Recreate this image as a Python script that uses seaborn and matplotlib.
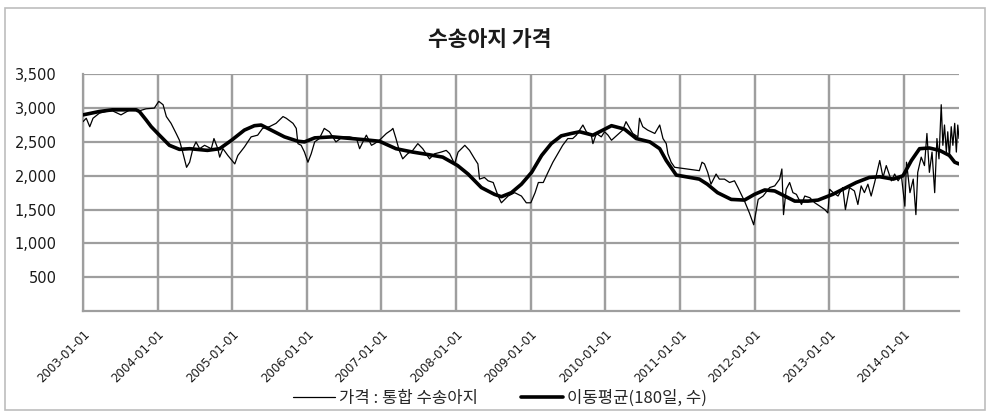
import matplotlib
matplotlib.use("Agg")
import matplotlib.pyplot as plt
from matplotlib.patches import Rectangle
import seaborn as sns
import pandas as pd

# ---------------- data ----------------
title_text = "수송아지 가격"
series_names = ["가격 : 통합 수송아지", "이동평균(180일, 수)"]
year_ticks = ["2003-01-01", "2004-01-01", "2005-01-01", "2006-01-01", "2007-01-01",
              "2008-01-01", "2009-01-01", "2010-01-01", "2011-01-01", "2012-01-01",
              "2013-01-01", "2014-01-01"]
y_ticks = [500, 1000, 1500, 2000, 2500, 3000, 3500]
x_end = "2014-09-28"

price_dates = [
    "2003-01-01", "2003-01-17", "2003-02-03", "2003-02-19", "2003-03-22", "2003-04-23",
    "2003-05-25", "2003-07-06", "2003-08-16", "2003-10-04", "2003-11-06", "2003-12-16",
    "2004-01-07", "2004-01-28", "2004-02-13", "2004-03-07", "2004-04-01", "2004-04-17",
    "2004-05-03", "2004-05-22", "2004-06-06", "2004-06-22", "2004-07-07", "2004-07-25",
    "2004-08-18", "2004-09-20", "2004-10-03", "2004-10-22", "2004-10-31", "2004-11-16",
    "2004-12-10", "2005-01-13", "2005-01-28", "2005-03-01", "2005-04-03", "2005-05-05",
    "2005-05-29", "2005-07-01", "2005-08-03", "2005-09-06", "2005-09-22", "2005-10-25",
    "2005-11-10", "2005-11-18", "2005-12-04", "2005-12-20", "2006-01-06", "2006-01-22",
    "2006-02-08", "2006-03-03", "2006-03-27", "2006-04-21", "2006-05-23", "2006-06-25",
    "2006-07-28", "2006-09-01", "2006-09-16", "2006-10-02", "2006-10-19", "2006-11-13",
    "2006-11-28", "2006-12-22", "2007-01-25", "2007-02-18", "2007-02-26", "2007-03-13",
    "2007-03-29", "2007-04-15", "2007-05-09", "2007-06-03", "2007-06-28", "2007-07-22",
    "2007-08-24", "2007-09-18", "2007-10-20", "2007-11-14", "2007-12-01", "2007-12-25",
    "2008-01-11", "2008-02-13", "2008-03-07", "2008-04-01", "2008-04-17", "2008-04-25",
    "2008-05-19", "2008-06-06", "2008-07-01", "2008-07-25", "2008-08-10", "2008-09-12",
    "2008-10-14", "2008-11-16", "2008-12-10", "2009-01-01", "2009-01-22", "2009-02-07",
    "2009-03-03", "2009-03-26", "2009-04-19", "2009-05-13", "2009-06-06", "2009-07-01",
    "2009-07-25", "2009-08-12", "2009-08-28", "2009-09-13", "2009-09-30", "2009-10-24",
    "2009-11-01", "2009-11-18", "2009-12-12", "2009-12-28", "2010-01-14", "2010-01-31",
    "2010-03-27", "2010-04-12", "2010-05-06", "2010-05-15", "2010-06-09", "2010-06-17",
    "2010-07-03", "2010-07-27", "2010-08-31", "2010-09-24", "2010-10-10", "2010-10-26",
    "2010-11-03", "2010-11-19", "2010-12-06", "2011-04-06", "2011-04-19", "2011-05-01",
    "2011-05-17", "2011-06-02", "2011-06-27", "2011-07-13", "2011-08-07", "2011-09-01",
    "2011-09-25", "2011-10-12", "2011-10-28", "2011-11-13", "2011-12-07", "2011-12-28",
    "2012-01-19", "2012-02-12", "2012-03-15", "2012-04-09", "2012-05-03", "2012-05-14",
    "2012-05-22", "2012-06-04", "2012-06-21", "2012-07-07", "2012-07-24", "2012-08-18",
    "2012-09-03", "2012-09-28", "2012-10-22", "2012-11-16", "2012-12-10", "2012-12-25",
    "2013-01-03", "2013-01-20", "2013-02-13", "2013-03-08", "2013-03-21", "2013-04-10",
    "2013-05-04", "2013-05-21", "2013-06-06", "2013-06-22", "2013-07-09", "2013-07-25",
    "2013-08-11", "2013-09-05", "2013-09-21", "2013-10-07", "2013-11-01", "2013-11-17",
    "2013-12-04", "2013-12-20", "2014-01-06", "2014-01-14", "2014-01-31", "2014-02-16",
    "2014-03-01", "2014-03-10", "2014-03-27", "2014-04-12", "2014-04-24", "2014-05-06",
    "2014-05-19", "2014-06-01", "2014-06-12", "2014-06-22", "2014-07-03", "2014-07-11",
    "2014-07-19", "2014-07-28", "2014-08-04", "2014-08-12", "2014-08-21", "2014-08-29",
    "2014-09-07", "2014-09-15", "2014-09-22", "2014-09-28",
]
price_values = [
    2800, 2850, 2725, 2850, 2925, 2950,
    2960, 2900, 2970, 2960, 2990, 3000,
    3100, 3050, 2875, 2775, 2625, 2525,
    2350, 2125, 2200, 2400, 2500, 2400,
    2450, 2400, 2550, 2400, 2275, 2400,
    2300, 2175, 2300, 2425, 2575, 2600,
    2700, 2725, 2775, 2875, 2850, 2775,
    2700, 2475, 2450, 2350, 2200, 2325,
    2500, 2550, 2700, 2650, 2500, 2575,
    2575, 2550, 2400, 2500, 2600, 2450,
    2475, 2525, 2625, 2675, 2700, 2550,
    2375, 2250, 2325, 2375, 2475, 2400,
    2250, 2325, 2350, 2375, 2325, 2175,
    2350, 2450, 2375, 2250, 2175, 1950,
    1975, 1925, 1900, 1700, 1600, 1700,
    1750, 1700, 1600, 1600, 1750, 1900,
    1900, 2050, 2200, 2325, 2450, 2550,
    2550, 2600, 2675, 2750, 2650, 2600,
    2475, 2625, 2575, 2650, 2600, 2525,
    2675, 2800, 2675, 2625, 2575, 2850,
    2725, 2675, 2625, 2750, 2550, 2475,
    2325, 2200, 2125, 2075, 2200, 2175,
    2050, 1875, 2025, 1950, 1950, 1900,
    1925, 1825, 1725, 1625, 1450, 1275,
    1650, 1700, 1825, 1850, 1950, 2100,
    1425, 1800, 1900, 1750, 1725, 1575,
    1700, 1675, 1600, 1550, 1500, 1450,
    1800, 1750, 1700, 1825, 1500, 1825,
    1775, 1575, 1850, 1750, 1875, 1700,
    1900, 2225, 1975, 2150, 1925, 2025,
    1925, 2000, 1550, 2200, 1750, 1950,
    1425, 2050, 2275, 2150, 2625, 2050,
    2350, 1750, 2550, 2250, 3050, 2450,
    2750, 2350, 2650, 2275, 2725, 2450,
    2775, 2350, 2750, 2550,
]

ma_dates = [
    "2003-01-01", "2003-03-22", "2003-05-25", "2003-09-18", "2003-10-04", "2003-11-06",
    "2003-12-01", "2004-01-10", "2004-02-28", "2004-04-17", "2004-06-06", "2004-09-01",
    "2004-10-31", "2004-12-28", "2005-03-01", "2005-04-19", "2005-05-22", "2005-07-10",
    "2005-09-13", "2005-11-18", "2005-12-20", "2006-02-08", "2006-05-06", "2006-10-02",
    "2006-12-22", "2007-03-13", "2007-06-03", "2007-08-24", "2007-10-28", "2008-01-09",
    "2008-02-29", "2008-05-04", "2008-07-07", "2008-08-10", "2008-09-28", "2008-11-16",
    "2009-01-05", "2009-02-23", "2009-04-11", "2009-05-30", "2009-07-18", "2009-08-28",
    "2009-11-01", "2009-12-20", "2010-01-31", "2010-04-04", "2010-06-01", "2010-08-07",
    "2010-09-24", "2010-10-26", "2010-12-14", "2011-02-18", "2011-04-06", "2011-05-15",
    "2011-07-04", "2011-09-09", "2011-11-13", "2012-01-01", "2012-02-20", "2012-04-09",
    "2012-05-28", "2012-07-16", "2012-09-19", "2012-11-07", "2013-01-18", "2013-03-08",
    "2013-05-13", "2013-07-16", "2013-09-05", "2013-11-10", "2013-12-28", "2014-02-07",
    "2014-03-19", "2014-05-06", "2014-06-25", "2014-08-12", "2014-09-07", "2014-09-28",
]
ma_values = [
    2900, 2950, 2975, 2975, 2950, 2825,
    2725, 2600, 2450, 2390, 2400, 2375,
    2400, 2525, 2675, 2740, 2750, 2675,
    2575, 2510, 2500, 2560, 2575, 2535,
    2510, 2400, 2350, 2310, 2275, 2150,
    2025, 1825, 1725, 1690, 1750, 1875,
    2050, 2300, 2475, 2590, 2625, 2650,
    2600, 2675, 2740, 2690, 2550, 2500,
    2400, 2225, 2010, 1975, 1950, 1875,
    1750, 1650, 1640, 1725, 1790, 1775,
    1700, 1625, 1625, 1640, 1725, 1800,
    1900, 1975, 1985, 1950, 2000, 2225,
    2400, 2410, 2375, 2300, 2200, 2175,
]

# ---------------- plot ----------------
sns.set_theme(style="white")
KR = ["Noto Sans CJK KR", "DejaVu Sans"]
plt.rcParams["font.family"] = ["DejaVu Sans", "Noto Sans CJK KR"]
plt.rcParams["xtick.major.pad"] = 6
plt.rcParams["ytick.major.pad"] = 13
plt.rcParams["xtick.bottom"] = False
plt.rcParams["ytick.left"] = False

W, H = 992, 417
GRID = "#9e9e9e"
fig = plt.figure(figsize=(W / 100, H / 100), dpi=100)
fig.patch.set_facecolor("white")
ax = fig.add_axes([83 / W, (H - 311) / H, (959 - 83) / W, (311 - 74.3) / H])

df_price = pd.DataFrame({"date": pd.to_datetime(price_dates), "value": price_values})
df_ma = pd.DataFrame({"date": pd.to_datetime(ma_dates), "value": ma_values})

sns.lineplot(data=df_price, x="date", y="value", ax=ax, color="black", lw=0.9,
             estimator=None, label=series_names[0], zorder=3)
sns.lineplot(data=df_ma, x="date", y="value", ax=ax, color="black", lw=2.6,
             estimator=None, label=series_names[1], zorder=4)

ax.set_xlim(pd.Timestamp(year_ticks[0]), pd.Timestamp(x_end))
ax.set_ylim(0, 3500)
ax.set_xticks(pd.to_datetime(year_ticks))
ax.set_yticks(y_ticks)
ax.set_yticklabels([f"{v:,}" for v in y_ticks], fontsize=10.5, color="#1a1a1a")
ax.set_xticklabels(year_ticks, rotation=45, ha="right", rotation_mode="anchor",
                   fontsize=8.5, color="#1a1a1a")
ax.set_xlabel("")
ax.set_ylabel("")

for side in ["top", "right"]:
    ax.spines[side].set_visible(False)
for side in ["left", "bottom"]:
    ax.spines[side].set_color(GRID)
    ax.spines[side].set_linewidth(1.6)

# grid: vertical lines at the year ticks, horizontal at the value ticks
ax.vlines(pd.to_datetime(year_ticks), 0, 3500, colors=GRID, lw=1.6, zorder=2)
ax.xaxis.grid(True, color=GRID, lw=1.6)
ax.yaxis.grid(True, color=GRID, lw=1.6)

handles, labels = ax.get_legend_handles_labels()
ax.get_legend().remove()
fig.legend(handles, labels, loc="center", bbox_to_anchor=(500 / W, 1 - 398 / H),
           ncol=2, frameon=False, handlelength=2.5, handletextpad=0.25,
           columnspacing=2.6, prop={"family": KR, "size": 12})

fig.text(490 / W, 1 - 40 / H, title_text, ha="center", va="center", fontsize=15.5,
         fontweight="bold", family=KR, color="#1a1a1a")

fig.add_artist(Rectangle((5 / W, 7 / H), 980 / W, 402 / H, transform=fig.transFigure,
                         fill=False, edgecolor="#bdbdbd", lw=1.2))

fig.savefig("out.png", dpi=100)
